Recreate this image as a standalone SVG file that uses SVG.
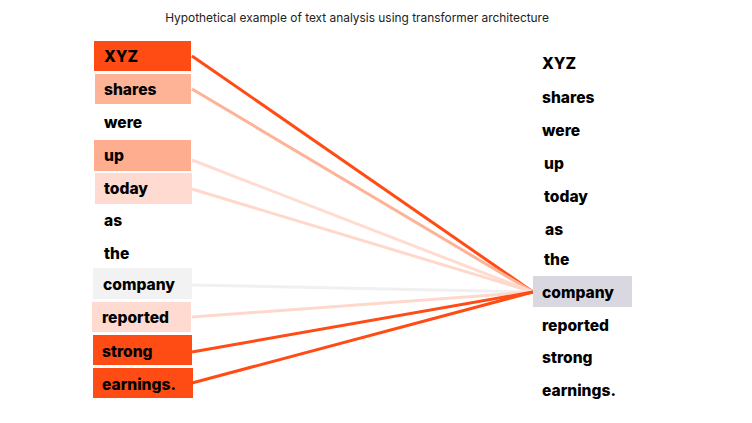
<svg xmlns="http://www.w3.org/2000/svg" width="752" height="423" viewBox="0 0 752 423">
<style>
.t{font-family:Inter,"Open Sans","Liberation Sans",sans-serif;font-weight:800;font-size:15.6px;fill:#000;dominant-baseline:central}
.title{font-family:Inter,"Open Sans","Liberation Sans",sans-serif;font-size:11.9px;fill:#222}
.c line{stroke-width:3;fill:none}
</style>
<rect width="752" height="423" fill="#fff"/>
<text class="title" x="357" y="22" text-anchor="middle">Hypothetical example of text analysis using transformer architecture</text>
<g class="c" id="connectors">
<line x1="192" y1="56" x2="533" y2="292" stroke="#ff4b14"/>
<line x1="192" y1="89" x2="533" y2="292" stroke="#ffb396"/>
<line x1="192" y1="160" x2="533" y2="292" stroke="#ffdcd0"/>
<line x1="192" y1="189" x2="533" y2="292" stroke="#ffd8cc"/>
<line x1="192" y1="285" x2="533" y2="292" stroke="#f0f0f0"/>
<line x1="192" y1="317" x2="533" y2="292" stroke="#ffd8cc"/>
<line x1="192" y1="352" x2="533" y2="292" stroke="#ff4b14"/>
<line x1="192" y1="383" x2="533" y2="292" stroke="#ff4b14"/>
</g>
<g id="l-xyz"><rect x="94" y="41" width="97" height="30" fill="#ff4b14"/><text class="t" x="104" y="56">XYZ</text></g>
<g id="l-shares"><rect x="95" y="74" width="96" height="30" fill="#ffb396"/><text class="t" x="104" y="89">shares</text></g>
<g id="l-were"><text class="t" x="104" y="122">were</text></g>
<g id="l-up"><rect x="94" y="140" width="97" height="31" fill="#ffad8f"/><text class="t" x="104" y="155">up</text></g>
<g id="l-today"><rect x="95" y="173" width="97" height="31" fill="#ffdad0"/><text class="t" x="104" y="188">today</text></g>
<g id="l-as"><text class="t" x="104" y="220">as</text></g>
<g id="l-the"><text class="t" x="104" y="253">the</text></g>
<g id="l-company"><rect x="93" y="268" width="99" height="31" fill="#f2f2f2"/><text class="t" x="103" y="284">company</text></g>
<g id="l-reported"><rect x="92" y="302" width="99" height="30" fill="#ffdad0"/><text class="t" x="102" y="317">reported</text></g>
<g id="l-strong"><rect x="93" y="335" width="99" height="30" fill="#ff4b14"/><text class="t" x="102" y="351">strong</text></g>
<g id="l-earnings"><rect x="93" y="368" width="100" height="30" fill="#ff4b14"/><text class="t" x="102" y="384">earnings.</text></g>
<g id="r-xyz"><text class="t" x="542" y="63">XYZ</text></g>
<g id="r-shares"><text class="t" x="542" y="97">shares</text></g>
<g id="r-were"><text class="t" x="542" y="130">were</text></g>
<g id="r-up"><text class="t" x="544" y="163">up</text></g>
<g id="r-today"><text class="t" x="544" y="196">today</text></g>
<g id="r-as"><text class="t" x="545" y="229">as</text></g>
<g id="r-the"><text class="t" x="544" y="259">the</text></g>
<g id="r-company"><rect x="533" y="276" width="99" height="31" fill="#d9d8e0"/><text class="t" x="542" y="292">company</text></g>
<g id="r-reported"><text class="t" x="542" y="325">reported</text></g>
<g id="r-strong"><text class="t" x="542" y="357">strong</text></g>
<g id="r-earnings"><text class="t" x="542" y="390">earnings.</text></g>
</svg>
